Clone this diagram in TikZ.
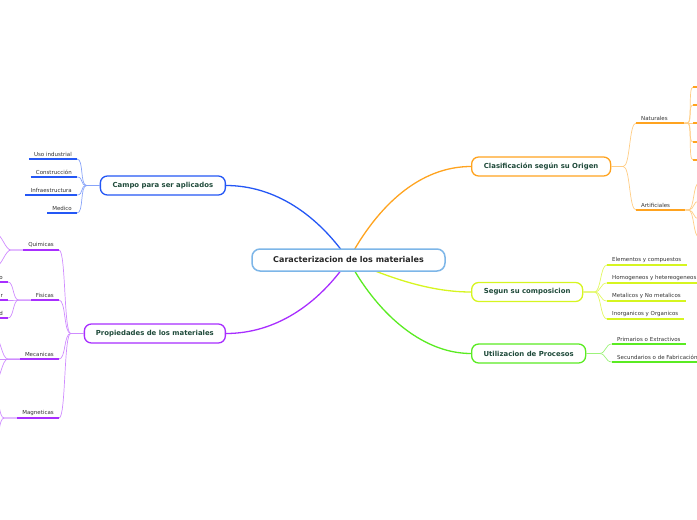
\documentclass[tikz,border=0pt]{standalone}
\usepackage{fontspec}
\setmainfont{DejaVu Sans}
\usetikzlibrary{backgrounds}

\definecolor{rootline}{HTML}{7DB6E8}
\definecolor{campoblue}{HTML}{2457F5}
\definecolor{origorange}{HTML}{FFA31F}
\definecolor{compyellow}{HTML}{D6F520}
\definecolor{procgreen}{HTML}{5AEB22}
\definecolor{proppurple}{HTML}{A82EFF}
\definecolor{topictext}{HTML}{1F4A3A}
\definecolor{leaftext}{HTML}{333333}

\begin{document}
\begin{tikzpicture}[
		x=1pt, y=-1pt,
		root/.style={
			rectangle,
			rounded corners=8pt,
			draw=rootline,
			line width=1.5pt,
			fill=white,
			minimum width=193pt,
			minimum height=22pt,
			font=\fontsize{8}{10}\bfseries,
			text=black!85
		},
		topic/.style={
			rectangle,
			rounded corners=7pt,
			line width=1.3pt,
			fill=white,
			minimum height=19pt,
			font=\fontsize{6.9}{8}\bfseries,
			text=topictext
		},
		leaf/.style={
			inner xsep=5pt,
			inner ysep=2.5pt,
			font=\fontsize{5.5}{6.5}\selectfont,
			text=leaftext
		},
		branch/.style={
			line width=1.3pt
		},
		twig/.style={
			line width=0.7pt
		},
		uline/.style={
			line width=1.6pt
		}
		]
		
		\useasboundingbox (0,0) rectangle (697,520);
		\clip (0,0) rectangle (697,520);
		
		\node[root] (root) at (348.5,260) {Caracterizacion de los materiales};
		
		\node[topic, draw=origorange, minimum width=139pt, anchor=west] (origen) at (471,166.5) {Clasificación según su Origen};
		\node[topic, draw=compyellow, minimum width=111pt, anchor=west] (compos) at (471,292) {Segun su composicion};
		\node[topic, draw=procgreen, minimum width=114pt, anchor=west] (proces) at (471,353.5) {Utilizacion de Procesos};
		\node[topic, draw=campoblue, minimum width=125pt, anchor=east] (campo) at (226,185.5) {Campo para ser aplicados};
		\node[topic, draw=proppurple, minimum width=141pt, anchor=east] (propie) at (226,333.5) {Propiedades de los materiales};
		
		% main branches, behind the nodes
		\begin{scope}[on background layer]
			\draw[branch, campoblue] (root.center) .. controls (318,215) and (275,185.5) .. (campo.east);
			\draw[branch, origorange] (root.center) .. controls (378,205) and (420,166.5) .. (origen.west);
			\draw[branch, proppurple] (root.center) .. controls (318,305) and (275,333.5) .. (propie.east);
			\draw[branch, compyellow] (root.center) .. controls (390,278) and (430,292) .. (compos.west);
			\draw[branch, procgreen] (root.center) .. controls (375,310) and (420,353.5) .. (proces.west);
		\end{scope}
		
		% Campo para ser aplicados
		\node[leaf, anchor=south east] (uso) at (77,159) {Uso industrial};
		\node[leaf, anchor=south east] (constr) at (77,177) {Construcción};
		\node[leaf, anchor=south east] (infra) at (77,195) {Infraestructura};
		\node[leaf, anchor=south east] (medico) at (77,213) {Medico};
		
		\draw[twig, campoblue!55] (campo.west) -- ++(-13,0) .. controls +(-7,0) and +(7,0) .. (uso.south east);
		\draw[twig, campoblue!55] (campo.west) -- ++(-13,0) .. controls +(-7,0) and +(7,0) .. (constr.south east);
		\draw[twig, campoblue!55] (campo.west) -- ++(-13,0) .. controls +(-7,0) and +(7,0) .. (infra.south east);
		\draw[twig, campoblue!55] (campo.west) -- ++(-13,0) .. controls +(-7,0) and +(7,0) .. (medico.south east);
		
		% Propiedades de los materiales
		\node[leaf, anchor=south east] (quimic) at (59,250) {Quimicas};
		\node[leaf, anchor=south east] (fisica) at (59,300) {Fisicas};
		\node[leaf, anchor=south east] (mecani) at (59,359) {Mecanicas};
		\node[leaf, anchor=south east] (magnet) at (59,418) {Magneticas};
		
		\draw[twig, proppurple!55] (propie.west) -- ++(-13,0) .. controls +(-7,0) and +(7,0) .. (quimic.south east);
		\draw[twig, proppurple!55] (propie.west) -- ++(-13,0) .. controls +(-7,0) and +(7,0) .. (fisica.south east);
		\draw[twig, proppurple!55] (propie.west) -- ++(-13,0) .. controls +(-7,0) and +(7,0) .. (mecani.south east);
		\draw[twig, proppurple!55] (propie.west) -- ++(-13,0) .. controls +(-7,0) and +(7,0) .. (magnet.south east);
		
		\node[leaf, anchor=south east] (fiso) at (8,282) {o};
		\node[leaf, anchor=south east] (fisr) at (8,300) {r};
		\node[leaf, anchor=south east] (fisd) at (8,318) {d};
		
		\draw[twig, proppurple!55] (fisica.south west) -- ++(-12,0) .. controls +(-6,0) and +(6,0) .. (fiso.south east);
		\draw[twig, proppurple!55] (fisica.south west) -- ++(-12,0) .. controls +(-6,0) and +(6,0) .. (fisr.south east);
		\draw[twig, proppurple!55] (fisica.south west) -- ++(-12,0) .. controls +(-6,0) and +(6,0) .. (fisd.south east);
		
		\coordinate (qui1) at (-4,234);
		\coordinate (qui2) at (-4,266);
		\coordinate (mec1) at (-6,335);
		\coordinate (mec2) at (-6,359);
		\coordinate (mec3) at (-6,383);
		\coordinate (mag1) at (-6,394);
		\coordinate (mag2) at (-6,442);
		
		\draw[twig, proppurple!55] (quimic.south west) -- ++(-12,0) .. controls +(-6,0) and +(6,0) .. (qui1);
		\draw[twig, proppurple!55] (quimic.south west) -- ++(-12,0) .. controls +(-6,0) and +(6,0) .. (qui2);
		\draw[twig, proppurple!55] (mecani.south west) -- ++(-12,0) .. controls +(-6,0) and +(6,0) .. (mec1);
		\draw[twig, proppurple!55] (mecani.south west) -- (mec2);
		\draw[twig, proppurple!55] (mecani.south west) -- ++(-12,0) .. controls +(-6,0) and +(6,0) .. (mec3);
		\draw[twig, proppurple!55] (magnet.south west) -- ++(-13,0) .. controls +(-6,0) and +(6,0) .. (mag1);
		\draw[twig, proppurple!55] (magnet.south west) -- ++(-13,0) .. controls +(-6,0) and +(6,0) .. (mag2);
		
		% Clasificacion segun su Origen
		\node[leaf, anchor=south west, text width=38pt, align=left] (natur) at (636,123) {Naturales};
		\node[leaf, anchor=south west, text width=39pt, align=left] (artif) at (636,210) {Artificiales};
		
		\draw[twig, origorange!55] (origen.east) -- ++(12,0) .. controls +(7,0) and +(-7,0) .. (natur.south west);
		\draw[twig, origorange!55] (origen.east) -- ++(12,0) .. controls +(7,0) and +(-7,0) .. (artif.south west);
		
		\coordinate (nat1) at (693,87);
		\coordinate (nat2) at (693,105);
		\coordinate (nat3) at (693,123);
		\coordinate (nat4) at (693,142);
		\coordinate (nat5) at (693,160);
		\coordinate (art1) at (699,183);
		\coordinate (art2) at (699,201);
		\coordinate (art3) at (699,219);
		\coordinate (art4) at (699,237);
		
		\draw[twig, origorange!55] (natur.south east) -- ++(3,0) .. controls +(5,0) and +(-5,0) .. (nat1);
		\draw[twig, origorange!55] (natur.south east) -- ++(3,0) .. controls +(5,0) and +(-5,0) .. (nat2);
		\draw[twig, origorange!55] (natur.south east) -- (nat3);
		\draw[twig, origorange!55] (natur.south east) -- ++(3,0) .. controls +(5,0) and +(-5,0) .. (nat4);
		\draw[twig, origorange!55] (natur.south east) -- ++(3,0) .. controls +(5,0) and +(-5,0) .. (nat5);
		\draw[twig, origorange!55] (artif.south east) -- ++(3,0) .. controls +(6,0) and +(-6,0) .. (art1);
		\draw[twig, origorange!55] (artif.south east) -- ++(3,0) .. controls +(6,0) and +(-6,0) .. (art2);
		\draw[twig, origorange!55] (artif.south east) -- ++(3,0) .. controls +(6,0) and +(-6,0) .. (art3);
		\draw[twig, origorange!55] (artif.south east) -- ++(3,0) .. controls +(6,0) and +(-6,0) .. (art4);
		
		% Segun su composicion
		\node[leaf, anchor=south west] (elemen) at (607,265) {Elementos y compuestos};
		\node[leaf, anchor=south west] (homoge) at (607,283) {Homogeneos y hetereogeneos};
		\node[leaf, anchor=south west] (metali) at (607,301) {Metalicos y No metalicos};
		\node[leaf, anchor=south west] (inorga) at (607,319) {Inorganicos y Organicos};
		
		\draw[twig, compyellow!70] (compos.east) -- ++(11,0) .. controls +(7,0) and +(-7,0) .. (elemen.south west);
		\draw[twig, compyellow!70] (compos.east) -- ++(11,0) .. controls +(7,0) and +(-7,0) .. (homoge.south west);
		\draw[twig, compyellow!70] (compos.east) -- ++(11,0) .. controls +(7,0) and +(-7,0) .. (metali.south west);
		\draw[twig, compyellow!70] (compos.east) -- ++(11,0) .. controls +(7,0) and +(-7,0) .. (inorga.south west);
		
		% Utilizacion de Procesos
		\node[leaf, anchor=south west] (primar) at (612,344) {Primarios o Extractivos};
		\node[leaf, anchor=south west] (secund) at (612,362) {Secundarios o de Fabricación};
		
		\draw[twig, procgreen!60] (proces.east) -- ++(13,0) .. controls +(7,0) and +(-7,0) .. (primar.south west);
		\draw[twig, procgreen!60] (proces.east) -- ++(13,0) .. controls +(7,0) and +(-7,0) .. (secund.south west);
		
		% underlines
		\foreach \n/\c in {uso/campoblue, constr/campoblue, infra/campoblue, medico/campoblue,
			quimic/proppurple, fisica/proppurple, mecani/proppurple, magnet/proppurple,
			fiso/proppurple, fisr/proppurple, fisd/proppurple,
			natur/origorange, artif/origorange,
			elemen/compyellow, homoge/compyellow, metali/compyellow, inorga/compyellow,
			primar/procgreen, secund/procgreen}
		\draw[uline, \c] (\n.south west) -- (\n.south east);
		
		\foreach \n in {nat1, nat2, nat3, nat4, nat5, art1, art2, art3, art4}
		\draw[uline, origorange] (\n) -- ++(14,0);
		
	\end{tikzpicture}
\end{document}
